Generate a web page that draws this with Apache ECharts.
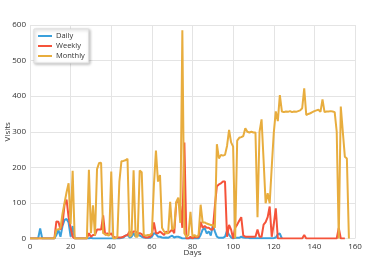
<!DOCTYPE html>
<html>
<head>
<meta charset="utf-8">
<script src="https://cdn.jsdelivr.net/npm/echarts@6/dist/echarts.min.js"></script>
<style>html,body{margin:0;padding:0;background:#fff}#c{width:374px;height:257px}</style>
</head>
<body>
<div id="c"></div>
<script>
// Values indexed by day (day = array index)
var daily = [0,0,0,0,0,28,0,0,0,0, 0,0,0,10,24,5,35,52,55,45, 5,35,0,0,0,0,0,0,0,0,
  2,0,0,0,0,0,0,0,0,0, 0,0,0,0,0,2,3,8,10,3, 5,15,5,12,8,5,3,2,2,2,
  5,15,12,5,5,3,2,3,2,5, 8,3,5,5,3,0,0,0,0,0, 0,0,0,0,10,25,29,14,20,8,
  38,20,5,2,2,2,5,22,10,3, 0,2,2,2,5,3,2,3,1,1, 1,1,1,1,1,1,1,1,1,1, 1,3,12,14,0];
var weekly = [0,0,0,0,0,0,0,0,0,0, 0,0,0,48,47,25,40,95,109,60, 30,5,0,0,0,0,0,0,0,15,
  5,10,10,25,25,25,65,10,15,10, 15,5,3,3,3,3,5,8,10,20, 15,20,20,15,15,12,5,3,3,5,
  10,45,15,15,20,15,10,20,15,20, 25,15,100,108,90,30,270,0,0,5, 0,5,3,5,47,30,35,30,30,25,
  25,90,147,152,155,160,160,5,38,25, 0,30,39,50,60,8,5,5,5,5, 5,5,25,5,5,39,46,60,90,5,
  40,85,0,0,0,0,0,0,0,0, 0,0,0,0,0,10,0,0,0,0, 0,0,0,0,0,0,0,0,0,0, 0,0,30,0,0,0];
var monthly = [0,0,0,0,0,0,0,0,0,0, 0,0,0,25,25,30,70,100,130,155, 40,190,0,0,0,0,0,0,0,193,
  15,93,8,195,212,213,15,12,10,8, 188,0,0,5,160,217,218,220,224,5, 10,192,5,5,191,186,10,8,10,10,
  15,150,247,160,178,30,20,15,15,103, 25,30,103,115,44,585,15,5,10,75, 5,10,5,10,95,45,45,42,40,38,
  38,30,265,225,235,233,235,260,305,270, 258,0,275,283,285,288,310,300,298,300, 298,298,60,300,335,220,99,127,99,200,
  296,357,330,403,357,355,357,356,358,355, 357,356,358,360,366,422,347,350,352,355, 358,360,362,356,391,355,357,357,358,357,
  355,300,0,371,300,230,225,0];
var xTicks = [0,20,40,60,80,100,120,140,160];
var yTicks = [0,100,200,300,400,500,600];

function pairs(arr){ return arr.map(function(v,i){ return [i, v]; }); }

var chart = echarts.init(document.getElementById('c'), null, {renderer:'canvas'});
var font = 'Open Sans';
chart.setOption({
  animation:false,
  grid:{left:30, right:19, top:25, bottom:18.5, containLabel:false, outerBoundsMode:'none'},
  legend:{
    data:['Daily','Weekly','Monthly'], orient:'vertical', left:34, top:29,
    icon:'rect', itemWidth:14, itemHeight:2, itemGap:2,
    padding:[3,4,3,4],
    backgroundColor:'#fff', borderColor:'#ddd', borderWidth:1,
    shadowBlur:3, shadowColor:'rgba(0,0,0,0.25)', shadowOffsetX:1, shadowOffsetY:1,
    textStyle:{fontFamily:font, fontSize:7.5, color:'#333', padding:[0,0,0,-1]}
  },
  xAxis:{
    type:'value', min:xTicks[0], max:xTicks[xTicks.length-1], interval:20,
    name:'Days', nameLocation:'middle', nameGap:10, nameMoveOverlap:false,
    nameTextStyle:{fontFamily:font, fontSize:8, color:'#333'},
    axisLine:{show:false}, axisTick:{show:false},
    axisLabel:{fontFamily:font, fontSize:8, color:'#333', margin:4},
    splitLine:{show:true, lineStyle:{color:'#e4e4e4', width:1}}
  },
  yAxis:{
    type:'value', min:yTicks[0], max:yTicks[yTicks.length-1], interval:100,
    name:'Visits', nameLocation:'middle', nameGap:18, nameRotate:90, nameMoveOverlap:false,
    nameTextStyle:{fontFamily:font, fontSize:8, color:'#333'},
    axisLine:{show:false}, axisTick:{show:false},
    axisLabel:{fontFamily:font, fontSize:8, color:'#333', margin:4},
    splitLine:{show:true, lineStyle:{color:'#e4e4e4', width:1}}
  },
  series:[
    {name:'Daily', type:'line', data:pairs(daily), symbol:'none', color:'#3aa0dc', lineStyle:{width:2}},
    {name:'Weekly', type:'line', data:pairs(weekly), symbol:'none', color:'#f5533a', lineStyle:{width:2}},
    {name:'Monthly', type:'line', data:pairs(monthly), symbol:'none', color:'#e8ad3e', lineStyle:{width:2}}
  ]
});
</script>
</body>
</html>
